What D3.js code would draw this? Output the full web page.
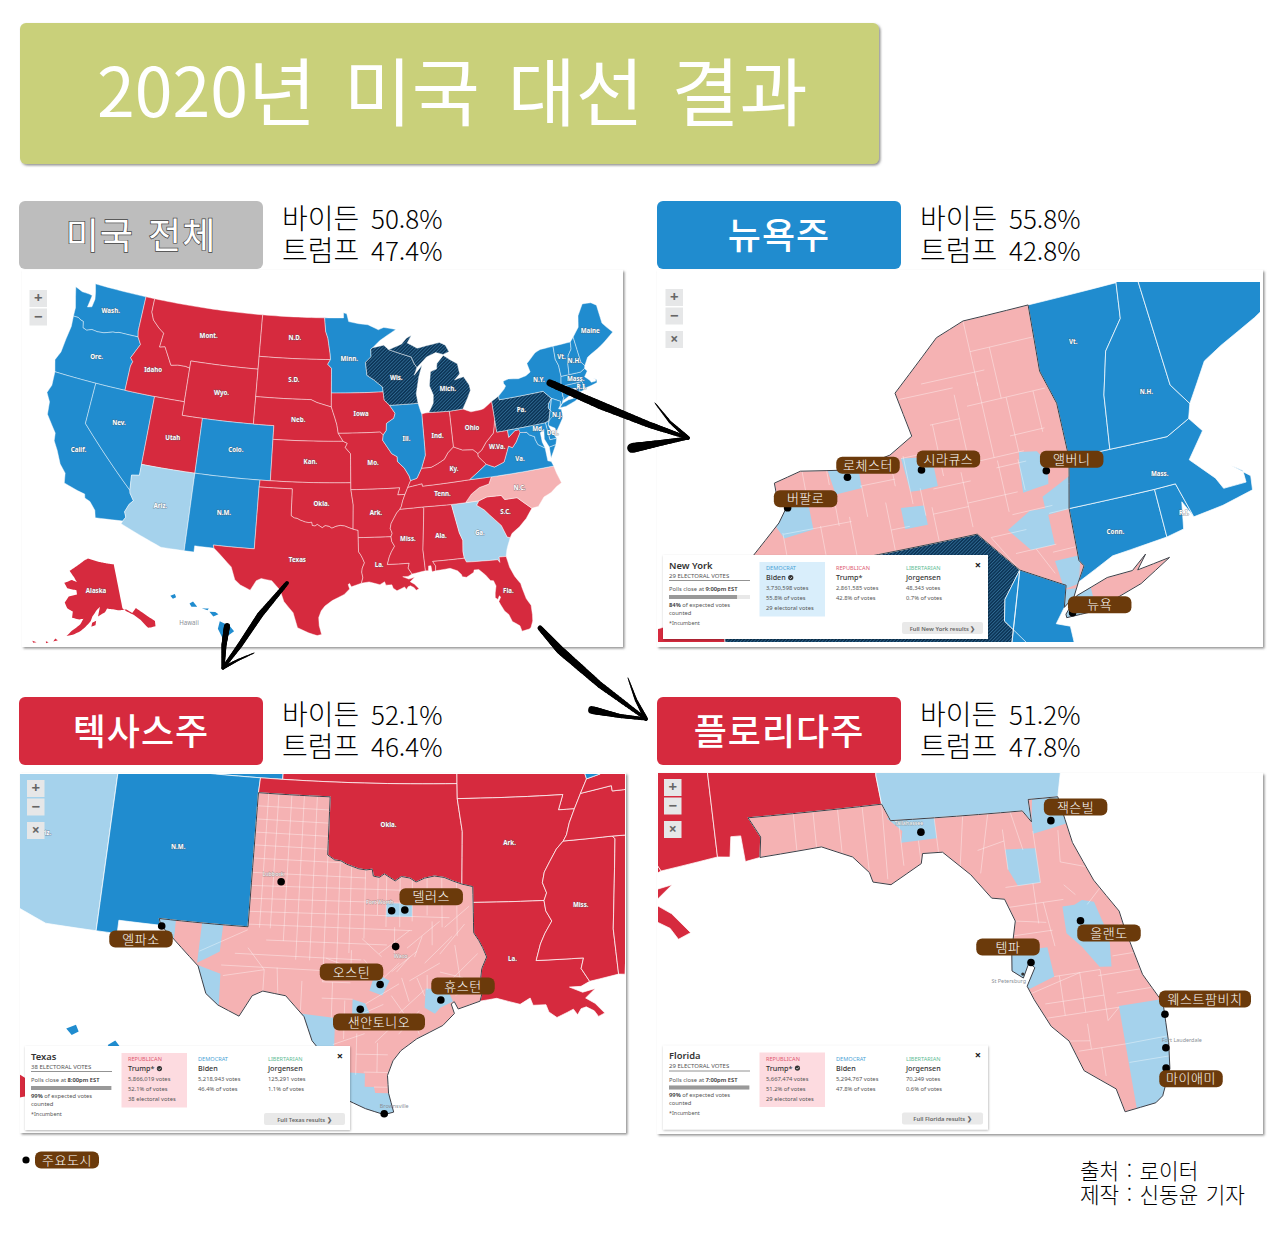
<!DOCTYPE html>
<html lang="ko"><head><meta charset="utf-8">
<script src="https://d3js.org/d3.v7.min.js"></script>
<style>html,body{margin:0;padding:0;background:#fff}svg{display:block}text{font-family:'Noto Sans CJK KR','Noto Sans',sans-serif}</style>
</head><body><svg id="c" width="1280" height="1240"></svg>
<script>
// ---------- shared borders (lon,lat) ----------
const columbia=[[-116.92,46],[-118.98,46],[-119.3,45.93],[-119.6,45.92],[-120.5,45.7],[-121.2,45.65],[-121.8,45.7],[-122.3,45.55],[-122.75,45.65],[-122.9,46.1],[-123.2,46.15],[-123.5,46.27],[-124.05,46.27]];
const snake=[[-117.03,43.8],[-116.9,44.15],[-117.2,44.4],[-116.85,44.95],[-116.5,45.5],[-116.92,46]];
const bitterroot=[[-116.05,48],[-115.7,47.45],[-114.95,46.95],[-114.35,46.65],[-114.5,45.6],[-113.95,45.7],[-113.45,45.05],[-113,44.45],[-112.3,44.55],[-111.5,44.55],[-111.05,44.47]];
const coloradoR=[[-114.63,35],[-114.57,34.8],[-114.14,34.3],[-114.45,34],[-114.72,33.4],[-114.52,33.03],[-114.72,32.72]];
const redRiver=[[-100,34.56],[-99.7,34.4],[-99.45,34.38],[-99.2,34.27],[-98.95,34.2],[-98.7,34.13],[-98.4,34.1],[-98.15,34.13],[-98.1,33.9],[-97.85,33.86],[-97.65,33.98],[-97.2,33.75],[-96.95,33.9],[-96.6,33.85],[-96.35,33.72],[-96,33.85],[-95.6,33.92],[-95.2,33.87],[-94.85,33.75],[-94.48,33.64]];
const sabine=[[-94.04,33.02],[-94.04,32],[-93.85,31.75],[-93.7,31.5],[-93.55,31.18],[-93.75,30.8],[-93.8,30.5],[-93.72,30.1],[-93.85,29.7]];
const missUpper=[[-91.22,43.5],[-91.15,42.9],[-90.65,42.5],[-90.15,41.9],[-90.3,41.55],[-91.05,41.2],[-91.1,40.7],[-91.42,40.38]];
const missMid=[[-91.42,40.38],[-91.5,40],[-90.7,39],[-90.2,38.75],[-90.2,38.4],[-89.6,37.9],[-89.2,37.3],[-89.1,36.97]];
const missLow=[[-89.7,36],[-89.95,35.55],[-90.1,35.15],[-90.25,34.95],[-90.55,34.7],[-90.85,34.3],[-91.1,33.95],[-91.2,33.6],[-91.05,33.25],[-91.17,33]];
const missLA=[[-91.17,33],[-91.12,32.65],[-90.9,32.3],[-91.2,31.9],[-91.4,31.55],[-91.6,31]];
const missouriR=[[-96.45,42.49],[-96.1,41.7],[-95.9,41.2],[-95.77,40.58]];
const stCroix=[[-92.1,46.75],[-92.3,46.65],[-92.3,46.1],[-92.9,45.7],[-92.8,44.75],[-92.1,44.4],[-91.25,43.85],[-91.22,43.5]];
const redNorth=[[-97.23,49],[-97.1,48],[-96.85,47.5],[-96.6,46.35],[-96.56,45.94]];
const ohioWest=[[-84.82,39.1],[-85.4,38.72],[-85.8,38.28],[-86.5,38],[-87.1,37.8],[-88,37.8]];
const ohioEast=[[-82.6,38.17],[-82.6,38.4],[-83,38.72],[-84,38.8],[-84.82,39.1]];
const ohioWV=[[-82.6,38.4],[-82.2,38.6],[-81.7,39.1],[-80.85,39.7],[-80.52,40.64]];
const tnNC=[[-84.32,34.99],[-83.7,35.55],[-82.9,35.95],[-82,36.1],[-81.68,36.59]];
const gaSC=[[-83.1,35],[-83.35,34.7],[-82.75,34.3],[-81.95,33.5],[-81.45,33],[-81.1,32.1],[-80.85,32.03]];
const ncSC=[[-83.1,35],[-82.35,35.2],[-81.05,35.15],[-80.8,34.82],[-79.68,34.8],[-78.55,33.86]];
const alGA=[[-85.6,34.98],[-85.18,32.87],[-84.95,32.3],[-85.05,31.5],[-85,31]];
const vaWV=[[-81.97,37.54],[-81.25,37.25],[-80.3,37.5],[-79.65,38.58],[-79.3,38.42],[-78.87,38.77],[-78.35,39.4],[-77.72,39.32]];
const potomac=[[-77.72,39.32],[-77.5,39.1],[-77.05,38.9],[-77.05,38.7],[-76.9,38.3],[-76.3,37.95]];
const delaware=[[-75.42,39.8],[-75.1,40],[-74.72,40.15],[-75.2,40.7],[-75.1,41],[-74.7,41.36]];
const hudson=[[-74.7,41.36],[-73.9,41],[-74.03,40.7]];
const nhVT=[[-71.5,45.01],[-71.6,44.5],[-72.05,44.1],[-72.3,43.5],[-72.45,42.73]];
const r=a=>a.slice().reverse();
// ---------- state outlines ----------
const WA=[[-122.76,49],[-117.03,49],[-117.04,46.42],...columbia,[-124.1,46.9],[-124.45,47.7],[-124.73,48.38],[-123.9,48.17],[-123.1,48.15],[-122.75,48.1],[-122.9,47.2],[-122.45,47.3],[-122.35,47.9],[-122.5,48.4]];
const OR=[[-124.2,42],[-120,42],[-117.03,42],...snake,...columbia.slice(1),[-123.95,45.5],[-124.1,44.5],[-124.2,43.5],[-124.55,42.84]];
const CA=[[-124.2,42],[-120,42],[-120,39],...coloradoR,[-117.12,32.53],[-117.3,33.05],[-117.9,33.6],[-118.4,33.75],[-118.5,34.03],[-119.2,34.15],[-120.5,34.45],[-120.65,35.15],[-121.3,35.7],[-121.9,36.6],[-122.4,37.2],[-122.5,37.75],[-122.97,38.2],[-123.7,38.9],[-123.85,39.8],[-124.35,40.4],[-124.1,41]];
const NV=[[-120,42],[-114.04,42],[-114.04,36.2],[-114.75,36.1],[-114.63,35],[-120,39]];
const ID=[[-117.03,49],[-116.05,49],...bitterroot,[-111.05,42],[-114.04,42],[-117.03,42],...snake,[-117.04,46.42]];
const MT=[[-116.05,49],[-104.05,49],[-104.05,45],[-111.05,45],...r(bitterroot)];
const WY=[[-111.05,45],[-104.05,45],[-104.05,41],[-111.05,41]];
const UT=[[-114.04,42],[-111.05,42],[-111.05,41],[-109.05,41],[-109.05,37],[-114.04,37]];
const CO=[[-109.05,41],[-102.05,41],[-102.05,37],[-109.05,37]];
const AZ=[[-114.04,37],[-109.05,37],[-109.05,31.33],[-111.07,31.33],[-114.81,32.5],...r(coloradoR),[-114.75,36.1],[-114.04,36.2]];
const NM=[[-109.05,37],[-103,37],[-103.04,36.5],[-103.06,32],[-106.62,32],[-106.53,31.78],[-108.21,31.78],[-108.21,31.33],[-109.05,31.33]];
const ND=[[-104.05,49],...redNorth,[-104.05,45.94]];
const SD=[[-104.05,45.94],[-96.56,45.94],[-96.85,45.6],[-96.45,45.3],[-96.45,42.49],[-97.9,42.8],[-98.5,43],[-104.05,43]];
const NE=[[-104.05,43],[-98.5,43],[-97.9,42.8],...missouriR,[-95.3,40],[-102.05,40],[-102.05,41],[-104.05,41]];
const KS=[[-102.05,40],[-95.3,40],[-94.9,39.85],[-95.1,39.55],[-94.61,39.1],[-94.62,37],[-102.05,37]];
const OK=[[-103,37],[-94.62,37],[-94.62,36.5],[-94.43,35.4],...r(redRiver),[-100,36.5],[-103.04,36.5]];
const TX=[[-103.04,36.5],[-100,36.5],...redRiver,[-94.04,33.55],...sabine,[-94.7,29.45],[-94.85,29.7],[-94.97,29.62],[-94.85,29.3],[-95.3,28.9],[-96.3,28.45],[-96.9,28.05],[-97.2,27.7],[-97.4,27.2],[-97.35,26.6],[-97.15,25.96],[-97.5,25.87],[-98.2,26.06],[-99.1,26.42],[-99.5,27.5],[-100.3,28.3],[-100.65,29.1],[-101.4,29.77],[-102.3,29.88],[-102.7,29.7],[-103.15,28.98],[-104,29.3],[-104.5,29.65],[-104.9,30.55],[-106,31.4],[-106.53,31.78],[-106.62,32],[-103.06,32]];
const MN=[...redNorth.slice(0,1),[-95.15,49],[-95.15,49.38],[-94.8,49.3],[-94.6,48.72],[-93.5,48.55],[-92.5,48.45],[-91.4,48.05],[-90.8,48.2],[-89.5,48],[-90.5,47.6],[-91.3,47.25],...stCroix,[-96.45,43.5],[-96.45,45.3],[-96.85,45.6],[-96.56,45.94],[-96.6,46.35],[-96.85,47.5],[-97.1,48]];
const IA=[[-96.45,43.5],...missUpper,[-91.7,40.6],...r(missouriR)];
const MO=[[-95.77,40.58],[-91.7,40.6],...missMid,[-89.4,36.5],[-89.7,36],[-90.37,36],[-90.15,36.5],[-94.62,36.5],[-94.62,37],[-94.61,39.1],[-95.1,39.55],[-94.9,39.85],[-95.3,40]];
const AR=[[-94.62,36.5],[-90.15,36.5],[-90.37,36],...missLow,[-94.04,33.02],[-94.04,33.55],[-94.48,33.64],[-94.43,35.4]];
const LA=[...sabine.slice(0,1),...missLA,[-89.73,31],[-89.85,30.65],[-89.55,30.2],[-89.9,30.05],[-90.35,30.05],[-89.85,29.85],[-89.35,29.95],[-89.75,29.65],[-89.4,29.45],[-89.05,29.1],[-89.3,29],[-89.45,29.2],[-89.75,29.35],[-89.95,29.3],[-90.1,29.1],[-90.25,29.3],[-90.5,29.2],[-90.9,29.05],[-91.2,29.25],[-91.3,29.5],[-91.8,29.5],[-91.9,29.75],[-92.3,29.55],[-93.2,29.78],...r(sabine)];
const MS=[[-90.25,34.95],[-88.2,35],[-88.1,34.9],[-88.47,31.9],[-88.4,30.37],[-89.55,30.2],[-89.85,30.65],[-89.73,31],...r(missLA),[-91.05,33.25],[-91.2,33.6],[-91.1,33.95],[-90.85,34.3],[-90.55,34.7]];
const AL=[[-88.2,35],...alGA,[-87.72,31],[-87.5,30.65],[-87.55,30.3],[-87.85,30.25],[-87.9,30.7],[-88.1,30.7],[-88.15,30.35],[-88.4,30.37],[-88.47,31.9],[-88.1,34.9]];
const GA=[[-85.6,34.98],[-84.32,34.99],...gaSC,[-81.15,31.5],[-81.3,31.2],[-81.45,30.72],[-82.05,30.75],[-82.05,30.36],[-82.2,30.57],[-84.86,30.7],...r(alGA)];
const FL=[[-87.72,31],[-85,31],[-84.86,30.7],[-82.2,30.57],[-82.05,30.36],[-82.05,30.75],[-81.45,30.72],[-81.3,29.9],[-81,29.2],[-80.6,28.6],[-80.55,28.3],[-80.35,27.45],[-80.05,26.9],[-80.07,26.2],[-80.13,25.75],[-80.35,25.3],[-80.5,25.2],[-81.1,25.13],[-81.2,25.55],[-81.75,25.95],[-81.95,26.5],[-82.25,26.8],[-82.5,27.3],[-82.6,27.55],[-82.4,27.85],[-82.5,27.95],[-82.65,27.7],[-82.85,27.85],[-82.8,28.2],[-82.65,28.7],[-82.8,29.1],[-83.05,29.15],[-83.4,29.6],[-83.9,30.05],[-84.3,30.07],[-84.35,29.9],[-85,29.6],[-85.35,29.68],[-85.4,29.85],[-85.7,30.15],[-86.3,30.38],[-87.55,30.3],[-87.5,30.65]];
const SC=[...ncSC,[-79.2,33.2],[-79.9,32.7],[-80.65,32.3],[-80.85,32.03],...r(gaSC).slice(1)];
const NC=[[-84.32,34.99],...ncSC,[-77.95,33.9],[-77.3,34.5],[-76.6,34.7],[-76,35.05],[-75.5,35.25],[-75.75,36],[-75.87,36.55],...r(tnNC)];
const TN=[[-90.25,34.95],[-88.2,35],[-85.6,34.98],...tnNC,[-83.68,36.6],[-88.05,36.5],[-88.07,36.68],[-89.4,36.5],[-89.7,36],[-89.95,35.55],[-90.1,35.15]];
const KY=[[-89.4,36.5],[-88.07,36.68],[-88.05,36.5],[-83.68,36.6],...vaWV.slice(0,1),...ohioEast,...ohioWest.slice(1),[-88.5,37.1],[-89.1,36.97]];
const VA=[[-83.68,36.6],[-75.87,36.55],[-76,36.9],[-76.3,37],[-76.3,37.95],...r(potomac),...r(vaWV)];
const VAshore=[[-75.9,37.95],[-75.25,38.03],[-75.95,37.15]];
const WV=[...vaWV,[-78.4,39.62],[-78.8,39.6],[-79.48,39.2],[-79.48,39.72],[-80.52,39.72],...r(ohioWV),[-82.6,38.17]];
const OH=[[-84.82,39.1],[-84,38.8],[-83,38.72],...ohioWV,[-80.52,41.98],[-81.4,41.55],[-81.7,41.5],[-82.7,41.45],[-83.45,41.73],[-84.8,41.7]];
const IN=[[-87.53,41.7],[-87.2,41.75],[-86.82,41.76],[-84.8,41.7],...ohioWest,[-87.55,38.7],[-87.53,39.35]];
const IL=[[-87.53,41.7],[-87.53,39.35],[-87.55,38.7],[-88,37.8],[-88.5,37.1],...r(missMid),[-91.1,40.7],[-91.05,41.2],[-90.3,41.55],[-90.15,41.9],[-90.65,42.5],[-87.8,42.5],[-87.6,41.85]];
const WI=[[-90.65,42.5],[-87.8,42.5],[-87.9,43.2],[-87.7,43.8],[-87.5,44.4],[-87.05,45.25],[-87.95,44.55],[-87.6,45.1],[-87.85,45.4],[-88.1,45.9],[-89,46.15],[-90.4,46.55],[-90.9,46.9],[-91.3,46.85],...stCroix,[-91.15,42.9]];
const MIlow=[[-86.82,41.76],[-86.3,42.4],[-86.2,43],[-86.5,43.7],[-86.25,44.7],[-85.6,44.85],[-85.5,45.25],[-84.75,45.78],[-84.1,45.4],[-83.4,45.05],[-83.3,44.3],[-83.9,43.9],[-83.45,43.98],[-82.95,44.05],[-82.5,43.4],[-82.45,43],[-82.9,42.4],[-83.15,42.1],[-83.45,41.73],[-84.8,41.7]];
const MIup=[[-90.4,46.55],[-89,46.9],[-88.45,47.3],[-87.9,47.47],[-88.4,46.95],[-87.4,46.5],[-86.1,46.65],[-85,46.75],[-84.4,46.5],[-84.1,46],[-84.75,45.85],[-85.5,46.05],[-86.5,45.8],[-87.6,45.1],[-87.85,45.4],[-88.1,45.9],[-89,46.15]];
const PA=[[-80.52,41.98],[-80.52,39.72],[-75.78,39.72],...delaware,[-75.35,41.99],[-79.76,42],[-79.76,42.27]];
const NY=[[-79.76,42.27],[-79.76,42],[-75.35,41.99],[-74.7,41.36],[-73.9,41],[-74.03,40.7],[-73.8,40.82],[-73.66,41],[-73.48,41.21],[-73.55,41.3],[-73.5,42.05],[-73.27,42.75],[-73.25,43.55],[-73.43,44.05],[-73.34,45.01],[-74.7,45],[-75.3,44.85],[-76.35,44.2],[-76.2,43.55],[-76.7,43.35],[-77.5,43.25],[-78.5,43.37],[-79.05,43.27],[-79.05,43.1],[-78.9,42.9],[-79.1,42.7]];
const LI=[[-74.03,40.6],[-73.75,40.82],[-73.1,40.97],[-72.6,40.98],[-72.28,41.16],[-72.5,40.97],[-71.85,41.03],[-72.5,40.77],[-73.5,40.55],[-74.03,40.55]];
const NJ=[[-74.7,41.36],...hudson.slice(1),[-74.25,40.5],[-74,40.42],[-74,40.1],[-74.1,39.75],[-74.9,38.95],[-75,39.2],[-75.55,39.5],...r(delaware)];
const DE=[[-75.78,39.72],[-75.42,39.8],[-75.55,39.5],[-75.4,39.05],[-75.05,38.45],[-75.7,38.46]];
const MD=[[-79.48,39.72],[-75.78,39.72],[-75.7,38.46],[-75.05,38.45],[-75.25,38.03],[-75.9,37.95],[-76.2,38.6],[-76.05,39.3],[-76.45,39.1],[-76.45,38.4],...r(potomac),[-78.35,39.4],[-78.4,39.62],[-78.8,39.6],[-79.48,39.2]];
const CT=[[-73.66,41],[-73.48,41.21],[-73.55,41.3],[-73.5,42.05],[-71.8,42.02],[-71.8,41.32],[-72.9,41.25]];
const RI=[[-71.8,42.02],[-71.38,42.02],[-71.2,41.5],[-71.35,41.75],[-71.45,41.37],[-71.8,41.32]];
const MA=[[-73.5,42.05],[-73.27,42.75],[-72.45,42.73],[-71.3,42.7],[-70.8,42.87],[-70.6,42.65],[-71,42.3],[-70.6,41.95],[-70.5,41.78],[-70.05,41.78],[-70.05,41.95],[-70.25,42.07],[-69.93,41.85],[-69.97,41.65],[-70.6,41.55],[-71.2,41.5],[-71.38,42.02],[-71.8,42.02]];
const VT=[[-73.34,45.01],...nhVT,[-73.27,42.75],[-73.25,43.55],[-73.43,44.05]];
const NH=[[-71.5,45.01],[-71.08,45.3],[-70.98,43.4],[-70.7,43.07],[-70.8,42.87],[-71.3,42.7],...r(nhVT).slice(0,-1)];
const ME=[[-71.08,45.3],[-70.3,45.9],[-70,46.7],[-69.22,47.46],[-68.3,47.36],[-67.8,47.07],[-67.8,45.7],[-67.45,45.3],[-67,44.85],[-68.2,44.3],[-69,44],[-69.8,43.75],[-70.2,43.6],[-70.7,43.07],[-70.98,43.4]];
const AK=[[-141,69.65],[-141,60.3],[-139.8,59.6],[-137,58.4],[-135,57],[-133.2,55],[-130.5,54.8],[-130,55.9],[-133.5,58.4],[-135.5,59.7],[-137.5,58.9],[-139.5,59.9],[-142.5,60],[-145,60.4],[-147.5,60.7],[-148.5,60],[-151.5,59.2],[-150.5,61.2],[-152,60.5],[-153.8,59.2],[-154.5,58.2],[-156.5,57],[-158.5,56],[-161,55.2],[-163.2,54.8],[-161.5,56],[-158.5,57.5],[-157.4,58.7],[-159,58.5],[-162,58.7],[-162,60],[-164.5,60.5],[-166,61.6],[-164.7,63],[-161,63.6],[-161.5,64.5],[-166,64.6],[-168,65.6],[-164.5,66.5],[-161.8,66.2],[-163.5,67.1],[-166.5,68.3],[-163,69.5],[-159,70.8],[-156.5,71.35],[-152,70.85],[-146,70.2]];
const AKisl=[[[-153.9,57.9],[-152.3,58.3],[-152.6,57.4],[-154.2,57.1]],[[-167,53.9],[-166,53.6],[-167.5,53.2]],[[-170,52.9],[-169,52.8],[-169.8,52.5]],[[-174.5,52.2],[-173,52.2],[-174,51.9]]];
const HIisl=[[[-155.9,20.25],[-155.1,19.85],[-154.8,19.5],[-155.65,18.93],[-156.05,19.7]],[[-156.7,20.95],[-156.25,20.93],[-156,20.75],[-156.4,20.6]],[[-157.3,21.2],[-156.75,21.18],[-156.85,21.05]],[[-158.25,21.55],[-157.98,21.7],[-157.65,21.3],[-158.1,21.3]],[[-159.75,22.1],[-159.4,22.23],[-159.3,22],[-159.55,21.88]]];
// ---------- election colouring ----------
const statesAll={WA:[WA],OR:[OR],CA:[CA],NV:[NV],ID:[ID],MT:[MT],WY:[WY],UT:[UT],CO:[CO],AZ:[AZ],NM:[NM],ND:[ND],SD:[SD],NE:[NE],KS:[KS],OK:[OK],TX:[TX],MN:[MN],IA:[IA],MO:[MO],AR:[AR],LA:[LA],MS:[MS],AL:[AL],GA:[GA],FL:[FL],SC:[SC],NC:[NC],TN:[TN],KY:[KY],VA:[VA,VAshore],WV:[WV],OH:[OH],IN:[IN],IL:[IL],WI:[WI],MI:[MIlow,MIup],PA:[PA],NY:[NY,LI],NJ:[NJ],DE:[DE],MD:[MD],CT:[CT],RI:[RI],MA:[MA],VT:[VT],NH:[NH],ME:[ME]};
const wonBlue=['WA','OR','CA','NV','CO','NM','MN','IL','VA','MD','DE','NJ','NY','CT','RI','MA','VT','NH','ME','HI'];
const leanBlue=['AZ','GA'];
const leanRed=['NC'];
const pending=['WI','MI','PA'];
const COL={red:'#d62a3e',blue:'#208ccf',lb:'#a5d2ec',pink:'#f5b2b3'};
const stateColor=c=>wonBlue.includes(c)?COL.blue:leanBlue.includes(c)?COL.lb:leanRed.includes(c)?COL.pink:pending.includes(c)?'url(#hatch)':COL.red;
// ---------- labels ----------
const stateLabels=[['Wash.',-120.4,47.4],['Ore.',-120.6,43.9],['Calif.',-120.0,37.0],['Nev.',-116.9,39.6],['Idaho',-114.7,43.9],['Mont.',-109.6,47.0],['Wyo.',-107.5,43.0],['Utah',-111.6,39.3],['Colo.',-105.5,39.0],['Ariz.',-111.7,34.3],['N.M.',-106.0,34.4],['N.D.',-100.4,47.5],['S.D.',-100.3,44.4],['Neb.',-99.7,41.5],['Kan.',-98.4,38.5],['Okla.',-97.3,35.5],['Texas',-99.3,31.4],['Minn.',-94.6,46.0],['Iowa',-93.5,42.0],['Mo.',-92.5,38.4],['Ark.',-92.4,34.8],['La.',-92.3,31.0],['Wis.',-89.8,44.5],['Ill.',-89.2,40.0],['Mich.',-84.7,43.3],['Ind.',-86.2,40.0],['Ky.',-85.0,37.5],['Tenn.',-86.3,35.8],['Miss.',-89.7,32.8],['Ala.',-86.8,32.8],['Ga.',-83.4,32.7],['Fla.',-81.7,28.2],['Ohio',-82.8,40.3],['W.Va.',-80.7,38.7],['Va.',-78.8,37.5],['N.C.',-79.3,35.5],['S.C.',-80.9,33.9],['Pa.',-77.8,41.0],['N.Y.',-75.5,42.9],['N.J.',-74.5,40.1],['Del.',-75.3,38.9],['Md.',-76.6,39.4],['Conn.',-72.75,41.65],['R.I.',-71.55,41.68],['Mass.',-71.9,42.35],['Vt.',-72.75,44.1],['N.H.',-71.6,43.6],['Maine',-69.2,45.4]];
const cityNY=[['Buffalo',-78.88,42.89],['Rochester',-77.61,43.16],['Syracuse',-76.15,43.05],['Albany',-73.76,42.65],['New York',-73.9,40.6]];
const cityTX=[['Lubbock',-101.85,33.58],['Fort Worth',-97.33,32.75],['Dallas',-96.8,32.78],['Waco',-97.15,31.55],['Austin',-97.74,30.27],['San Antonio',-98.49,29.42],['Houston',-95.37,29.76],['El Paso',-106.49,31.76],['Brownsville',-97.5,25.9]];
const cityFL=[['Tallahassee',-84.28,30.44],['Jacksonville',-81.66,30.33],['Orlando',-81.38,28.54],['Tampa',-82.46,27.95],['West Palm Beach',-80.05,26.7],['Fort Lauderdale',-80.14,26.12],['Miami',-80.2,25.77]];
const smallNamesTX=[['Lubbock',-101.85,33.58,-8,-6,1],['Fort Worth',-97.33,32.75,-12,-7,1],['Waco',-97.15,31.55,5,11,1],['Brownsville',-97.5,25.9,10,-6,0]];
const smallNamesFL=[['Tallahassee',-84.28,30.44,-12,-7,1],['St Petersburg',-82.65,27.77,-14,9,0],['Fort Lauderdale',-80.14,26.12,16,-6,0]];
// ---------- counties ----------
const blueNY=[[[-79.2,42.7],[-78.9,42.95],[-79.1,43.07],[-78.47,43.09],[-78.46,42.52],[-79.05,42.47]],[[-78,43.45],[-77.37,43.35],[-77.37,42.97],[-77.9,42.95]],[[-76.5,43.27],[-75.9,43.2],[-75.9,42.78],[-76.27,42.77],[-76.45,42.78]],[[-76.7,42.58],[-76.25,42.55],[-76.25,42.27],[-76.7,42.27]],[[-74.3,42.42],[-73.78,42.46],[-73.7,42.75],[-73.85,42.95],[-74.2,43.0],[-74.25,42.8]],[[-73.95,42.3],[-73.35,42.5],[-73.45,42.05],[-73.95,42.03]],[[-74.75,41.95],[-74.25,42.15],[-73.92,42.13],[-73.93,41.6],[-74.4,41.6]],[[-74,41.37],[-73.5,41.37],[-73.65,40.98],[-73.95,40.95]],[[-74.3,40.45],[-73.45,40.5],[-73.45,40.9],[-74.0,40.95]]];
const blueTX=[[[-106.7,32.05],[-105.95,32.05],[-105.95,31.3],[-106.7,31.3]],[[-104.9,32.05],[-104.05,32.05],[-104.1,31.1],[-104.95,30.65]],[[-105,30.6],[-104,30.35],[-103.95,29],[-105,29]],[[-100.8,29.2],[-99.45,29.1],[-99.45,27.9],[-100.8,27.9]],[[-99.6,27.3],[-98.25,27.25],[-98.25,26.8],[-97.9,26.8],[-97.85,26.6],[-97,26.6],[-97,25.7],[-99.6,25.7]],[[-98.15,30.05],[-97.95,30.65],[-97.37,30.4],[-97.65,29.9]],[[-98.8,29.75],[-98.3,29.62],[-98.13,29.3],[-98.8,29.1]],[[-97.55,33],[-96.5,33],[-96.5,32.55],[-97.55,32.55]],[[-95.96,30.15],[-95.1,30.1],[-94.9,29.7],[-95.4,29.5],[-95.6,29.3],[-96,29.5]]];
const blueFL=[[[-84.93,30.75],[-83.98,30.75],[-83.98,30.3],[-84.7,30.3],[-84.65,30.5]],[[-82.65,29.95],[-82.05,29.9],[-82.05,29.3],[-82.5,29.3],[-82.65,29.6]],[[-81.95,30.85],[-81.3,30.85],[-81.3,30.25],[-82.05,30.15],[-82.05,30.36]],[[-81.69,28.83],[-81.69,28.36],[-81.43,28.09],[-81.15,27.7],[-80.92,27.67],[-80.87,28.19],[-81.06,28.83],[-81.29,28.89],[-81.45,28.83]],[[-83,28.18],[-82.1,28.17],[-82.05,27.65],[-82.55,27.5],[-83,27.6]],[[-80.9,26.97],[-79.8,26.97],[-79.8,25],[-80.87,25]]];
const linesNY=[[[-79.06,42],[-79.06,42.55]],[[-78.31,42],[-78.31,42.55]],[[-77.72,42],[-77.72,42.6]],[[-76.97,42],[-76.97,42.7]],[[-79.05,42.53],[-77.7,42.53]],[[-78.47,43.05],[-78.47,43.4]],[[-77.99,43.1],[-77.99,43.4]],[[-78.47,42.87],[-77.95,42.87]],[[-77.95,42.5],[-77.95,43]],[[-77.37,42.55],[-77.37,43]],[[-77.4,43],[-76.7,43]],[[-76.72,42.9],[-76.72,43.35]],[[-76.45,42.6],[-76.45,43.3]],[[-76.5,43.27],[-75.75,43.27]],[[-75.75,42.9],[-75.75,43.65]],[[-76,42.75],[-75.25,42.75]],[[-75.4,42.1],[-75.4,42.9]],[[-76.1,42.4],[-75.4,42.4]],[[-76.1,42],[-76.1,42.5]],[[-76.25,42.4],[-76.25,42.8]],[[-76.97,42.3],[-76.6,42.3]],[[-74.65,42.2],[-74.65,42.95]],[[-75.4,42.45],[-74.4,42.45]],[[-75.1,41.9],[-74.4,41.9]],[[-74.7,43],[-74.7,44.1]],[[-75.2,43],[-75.2,44]],[[-75.8,43.65],[-75.2,43.65]],[[-76.3,44.1],[-75.2,44.1]],[[-75.8,44.25],[-74.5,44.25]],[[-74.7,44.05],[-74.7,45]],[[-74.7,44.55],[-73.4,44.55]],[[-74.3,43.8],[-74.3,44.55]],[[-75,43.8],[-73.4,43.8]],[[-74.2,43],[-74.2,43.8]],[[-73.65,43.2],[-73.65,43.8]],[[-74.3,43.25],[-73.6,43.25]],[[-75,43],[-74.1,43]],[[-74.7,42.85],[-74.1,42.85]],[[-74.7,41.6],[-73.9,41.6]],[[-74,41.5],[-73.5,41.5]],[[-74.6,42.15],[-73.8,42.15]],[[-74.25,42.45],[-74.25,42.9]],[[-73.9,42.05],[-73.5,42.05]],[[-74.3,41.6],[-74.05,41.2]],[[-75.1,41.9],[-74.7,41.36]]];
const linesTX=[[[-102.6,36.6],[-102.6,32]],[[-102.17,36.6],[-102.17,32]],[[-101.62,36.6],[-101.62,31.6]],[[-101.09,36.6],[-101.09,31]],[[-100.54,36.6],[-100.54,31]],[[-99.99,34.6],[-99.99,30.3]],[[-99.47,34.3],[-99.47,30.6]],[[-99,34.2],[-99,31.3]],[[-98.42,34.2],[-98.42,31.8]],[[-97.9,33.9],[-97.9,32.6]],[[-97.55,33.9],[-97.55,32.2]],[[-97.0,33.9],[-97,32.2]],[[-96.5,33.9],[-96.5,32.4]],[[-95.9,33.9],[-95.9,32.6]],[[-95.3,33.9],[-95.3,32.2]],[[-94.7,33.7],[-94.7,31.9]],[[-103.06,36.06],[-100,36.06]],[[-103.06,35.62],[-100,35.62]],[[-103.06,35.18],[-100,35.18]],[[-103.06,34.75],[-100,34.75]],[[-103.06,34.31],[-99.2,34.31]],[[-103.06,33.83],[-98.4,33.83]],[[-103.06,33.39],[-95,33.39]],[[-103.06,32.96],[-95,32.96]],[[-103.06,32.52],[-95,32.52]],[[-103.06,32.09],[-96.5,32.09]],[[-102.3,31.6],[-97.5,31.6]],[[-103.5,31.08],[-98.5,31.08]],[[-104,30.65],[-98.5,30.65]],[[-103.9,30.3],[-102.3,30.6]],[[-103,31.3],[-102.3,30.6]],[[-102.3,30.6],[-102.3,29.8]],[[-101.8,30.7],[-101.7,29.7]],[[-100.8,30.3],[-100.8,29.3]],[[-100,30.3],[-98.9,30.3]],[[-100,29.75],[-98.8,29.75]],[[-99.6,30.3],[-99.6,29.1]],[[-99.1,29.7],[-99.1,28.4]],[[-99.5,28.2],[-98.3,28.6]],[[-98.8,29.1],[-97.6,29.6]],[[-98.3,29.6],[-97,30.3]],[[-98.3,28.9],[-97.3,29.3]],[[-97.9,28.3],[-97.2,28.9]],[[-98.6,27.9],[-97.4,27.9]],[[-98.3,27.3],[-97.3,27.3]],[[-97.9,26.8],[-97.3,26.8]],[[-98.6,27.2],[-98.6,28.6]],[[-97.8,27.3],[-97.8,28.3]],[[-97,29.3],[-96,30.1]],[[-97,28.6],[-96.2,29.4]],[[-96.5,29.3],[-96.2,28.6]],[[-96.6,30.4],[-95.4,31]],[[-97.3,30.7],[-96.3,31.4]],[[-97.8,31.3],[-96.6,32.1]],[[-96.7,31.5],[-95.4,32.4]],[[-96,31],[-94.9,31.9]],[[-95.4,31.3],[-94.4,32.3]],[[-95,30.4],[-93.9,31.3]],[[-94.8,29.9],[-93.8,30.5]],[[-95.4,30.7],[-94.5,30.5]],[[-94.8,31.6],[-94.6,30.4]],[[-94.2,32.9],[-95.2,32.2]],[[-96.3,30.5],[-96,29.9]],[[-97,31],[-97.6,30.5]],[[-98.5,31.8],[-97.7,31.2]],[[-98.4,31.1],[-97.9,30.6]],[[-103.06,31.9],[-104.9,31.05]],[[-96.9,30.5],[-96.6,29.7]],[[-97.3,29.9],[-96.8,29.3]],[[-96.1,31.9],[-96.4,31.2]],[[-95.7,32.4],[-95.7,31.6]],[[-97.2,32.2],[-97.2,31.2]],[[-96.6,31.2],[-97.1,30.7]],[[-98.9,31.4],[-98.9,30.6]],[[-99.9,31.1],[-99.2,30.9]],[[-95.9,30.6],[-95.9,30.1]]];
const linesFL=[[[-86.8,30.3],[-86.8,31]],[[-86.4,30.35],[-86.4,31]],[[-85.9,30.2],[-85.9,31]],[[-85.4,29.9],[-85.4,31]],[[-85.05,29.7],[-85,31]],[[-84.7,29.9],[-84.7,30.7]],[[-84.35,29.9],[-84.35,30.3]],[[-83.98,30.05],[-83.98,30.7]],[[-83.6,29.7],[-83.4,30.65]],[[-83.2,29.6],[-82.9,30.6]],[[-83.2,30],[-82.65,30.1]],[[-82.65,29.6],[-82.65,30.3]],[[-82.45,30.6],[-82.3,29.9]],[[-82.05,29.3],[-82.05,30.2]],[[-81.55,30.15],[-81.6,29.6]],[[-81.6,29.6],[-81.1,29.45]],[[-81.6,29.2],[-81.4,29]],[[-82.75,29.3],[-82.05,29.3]],[[-82.75,28.95],[-81.65,28.95]],[[-82.2,29.3],[-82.2,28.6]],[[-82.65,28.7],[-82.05,28.6]],[[-82.75,28.45],[-81.95,28.45]],[[-82.05,28.95],[-81.95,28.17]],[[-81.2,28.8],[-80.9,29.05]],[[-80.87,28.3],[-80.55,28.4]],[[-80.87,27.85],[-80.4,27.85]],[[-81.2,27.55],[-80.35,27.55]],[[-80.9,27.2],[-80.2,27.2]],[[-82.05,27.65],[-81.15,27.65]],[[-82.6,27.4],[-81.55,27.65]],[[-81.55,27.65],[-81.55,26.95]],[[-82.3,27.2],[-81.55,27.2]],[[-81.95,27.65],[-81.95,26.95]],[[-82.3,26.95],[-80.9,26.95]],[[-81.55,27.2],[-81.15,27.2]],[[-81.15,27.65],[-81.15,26.75]],[[-81.15,26.75],[-80.9,26.95]],[[-81.95,26.5],[-81.55,26.45]],[[-81.55,26.75],[-81.55,26.3]],[[-81.8,26.3],[-80.9,26.3]],[[-81.35,26.3],[-81.35,25.8]],[[-80.9,26.3],[-80.05,26.32]],[[-80.87,25.97],[-80.1,25.97]]];
// ---------- results panels ----------
const resultsUS=[['바이든','50.8%'],['트럼프','47.4%']];
const resultsNY=[['바이든','55.8%'],['트럼프','42.8%']];
const resultsTX=[['바이든','52.1%'],['트럼프','46.4%']];
const resultsFL=[['바이든','51.2%'],['트럼프','47.8%']];
const popNY={name:'New York',ev:'29 ELECTORAL VOTES',close:'9:00pm EST',counted:84,btn:'Full New York results',cand:[['DEMOCRAT','Biden','3,730,598','55.8%','29'],['REPUBLICAN','Trump*','2,861,585','42.8%',''],['LIBERTARIAN','Jorgensen','48,343','0.7%','']]};
const popTX={name:'Texas',ev:'38 ELECTORAL VOTES',close:'8:00pm EST',counted:99,btn:'Full Texas results',cand:[['REPUBLICAN','Trump*','5,866,019','52.1%','38'],['DEMOCRAT','Biden','5,218,943','46.4%',''],['LIBERTARIAN','Jorgensen','125,291','1.1%','']]};
const popFL={name:'Florida',ev:'29 ELECTORAL VOTES',close:'7:00pm EST',counted:99,btn:'Full Florida results',cand:[['REPUBLICAN','Trump*','5,667,474','51.2%','29'],['DEMOCRAT','Biden','5,294,767','47.8%',''],['LIBERTARIAN','Jorgensen','70,249','0.6%','']]};

// ============ layout ============
const svg=d3.select('#c');
const defs=svg.append('defs');
const hp=defs.append('pattern').attr('id','hatch').attr('width',2.4).attr('height',2.4).attr('patternUnits','userSpaceOnUse').attr('patternTransform','rotate(45)');
hp.append('rect').attr('width',2.4).attr('height',2.4).attr('fill','#0d3658');
hp.append('rect').attr('width',.55).attr('height',2.4).attr('fill','#3f82ae');
const sh=defs.append('filter').attr('id','shadow').attr('x','-3%').attr('y','-3%').attr('width','108%').attr('height','108%');
sh.append('feDropShadow').attr('dx',1.5).attr('dy',1.5).attr('stdDeviation',1).attr('flood-color','#555').attr('flood-opacity',.65);
const sh2=defs.append('filter').attr('id','shadowS').attr('x','-3%').attr('y','-3%').attr('width','108%').attr('height','108%');
sh2.append('feDropShadow').attr('dx',.5).attr('dy',1).attr('stdDeviation',1.3).attr('flood-color','#000').attr('flood-opacity',.3);

const baseP=()=>d3.geoConicEqualArea().parallels([29.5,45.5]).rotate([96,0]);
function densify(ring){const out=[];ring.forEach((p,i)=>{const q=ring[(i+1)%ring.length];const d=Math.max(Math.abs(p[0]-q[0]),Math.abs(p[1]-q[1]));const n=Math.max(1,Math.ceil(d/.5));for(let j=0;j<n;j++)out.push([p[0]+(q[0]-p[0])*j/n,p[1]+(q[1]-p[1])*j/n]);});return out;}
const US_SCALE=785, US_ANCHOR=[-94.61,39.1], US_AT=[350.5,453.7];
const usP=baseP().scale(US_SCALE).translate([0,0]);const a0=usP(US_ANCHOR);usP.translate([US_AT[0]-a0[0],US_AT[1]-a0[1]]);
const akP=d3.geoConicEqualArea().parallels([55,65]).rotate([154,0]).scale(US_SCALE*.35).translate([0,0]);
const ak0=akP([-152,64.5]);akP.translate([96-ak0[0],591-ak0[1]]);
const hiP=d3.geoConicEqualArea().parallels([8,18]).rotate([157,0]).scale(US_SCALE).translate([0,0]);
const hi0=hiP([-155.5,19.6]);hiP.translate([225-hi0[0],630-hi0[1]]);
const LABEL_FONT="'Noto Sans',sans-serif";

function drawPanel(cfg){
  const {id,frame,clip,scale,anchor,at,focus}=cfg;
  svg.append('rect').attr('x',frame[0]).attr('y',frame[1]).attr('width',frame[2]).attr('height',frame[3]).attr('fill','#fff').attr('filter','url(#shadow)');
  defs.append('clipPath').attr('id','cp'+id).append('rect').attr('x',clip[0]).attr('y',clip[1]).attr('width',clip[2]).attr('height',clip[3]);
  const g=svg.append('g').attr('clip-path',`url(#cp${id})`);
  const P=baseP().scale(scale).translate([0,0]);const a=P(anchor);P.translate([at[0]-a[0],at[1]-a[1]]);
  const k=scale/US_SCALE;const ua=usP(anchor);
  const viaUS=pr=>ll=>{const u=pr(ll);return [at[0]+k*(u[0]-ua[0]),at[1]+k*(u[1]-ua[1])];};
  const line=d3.line();
  const pathOf=(ring,pr)=>line(densify(ring).map(pr))+'Z';
  const sw=id==='us'?.55:.9;
  Object.entries(statesAll).forEach(([c,rings])=>{
    g.append('path').attr('d',rings.map(x=>pathOf(x,P)).join('')).attr('fill',c===focus?COL.pink:stateColor(c)).attr('stroke','#fff').attr('stroke-opacity',.8).attr('stroke-width',sw).attr('stroke-linejoin','round');
  });
  g.append('path').attr('d',[AK,...AKisl].map(x=>pathOf(x,viaUS(akP))).join('')).attr('fill',COL.red);
  g.append('path').attr('d',HIisl.map(x=>pathOf(x,viaUS(hiP))).join('')).attr('fill',COL.blue);
  if(focus){
    const cid='st'+id;
    const fd=statesAll[focus].map(x=>pathOf(x,P)).join('');
    defs.append('clipPath').attr('id',cid).append('path').attr('d',fd);
    const cg=g.append('g').attr('clip-path',`url(#${cid})`);
    cg.selectAll('path.b').data(cfg.blue).join('path').attr('d',x=>pathOf(x,P)).attr('fill',COL.lb);
    cg.append('path').attr('d',cfg.lines.map(l=>d3.line()(l.map(P))).join('')).attr('fill','none').attr('stroke','#fff').attr('stroke-opacity',.55).attr('stroke-width',.7);
    g.append('path').attr('d',fd).attr('fill','none').attr('stroke','#3d4048').attr('stroke-width',1);
  }
  const shift=cfg.labelShift||{};const hide=cfg.hide||[];
  const lp=d=>{const q=P([d[1],d[2]]);const s=shift[d[0]]||[0,0];return [q[0]+s[0],q[1]+s[1]];};
  const inside=d=>{const q=lp(d);return q[0]>clip[0]+8&&q[0]<clip[0]+clip[2]-8&&q[1]>clip[1]+6&&q[1]<clip[1]+clip[3]-6&&!hide.includes(d[0]);};
  g.selectAll('text.s').data(stateLabels.filter(inside)).join('text')
    .attr('x',d=>lp(d)[0]).attr('y',d=>lp(d)[1]+2.2).attr('text-anchor','middle')
    .style('font-family',LABEL_FONT).attr('font-size',cfg.labelSize||6.2).attr('font-weight',700).attr('fill','#fff')
    .attr('stroke','#5a5f6a').attr('stroke-opacity',.55).attr('stroke-width',1).attr('paint-order','stroke').text(d=>d[0]);
  if(id==='us'){
    const al=akP([-152,64.5]);
    g.append('text').attr('x',al[0]).attr('y',al[1]+2.2).attr('text-anchor','middle').style('font-family',LABEL_FONT).attr('font-size',6.2).attr('font-weight',700).attr('fill','#fff').attr('stroke','#5a5f6a').attr('stroke-opacity',.55).attr('stroke-width',1).attr('paint-order','stroke').text('Alaska');
    g.append('text').attr('x',189).attr('y',625).attr('text-anchor','middle').style('font-family',LABEL_FONT).attr('font-size',6.2).attr('fill','#8a8f96').text('Hawaii');
  }
  (cfg.small||[]).forEach(d=>{const q=P([d[1],d[2]]);const t=g.append('text').attr('x',q[0]+d[3]).attr('y',q[1]+d[4]).attr('text-anchor','middle').style('font-family',LABEL_FONT).attr('font-size',5.4).attr('fill',d[5]?'#fff':'#8a8f96').text(d[0]);if(d[5])t.attr('stroke','#777').attr('stroke-width',.8).attr('stroke-opacity',.6).attr('paint-order','stroke');});
  g.selectAll('circle.c').data(cfg.cities||[]).join('circle').attr('cx',d=>P([d[1],d[2]])[0]).attr('cy',d=>P([d[1],d[2]])[1]).attr('r',3.8).attr('fill','#000');
  (cfg.tiny||[]).forEach(d=>{const q=P(d);g.append('circle').attr('cx',q[0]).attr('cy',q[1]).attr('r',1.6).attr('fill','#333');});
  const bx=cfg.btn[0],by=cfg.btn[1];
  const btns=cfg.focus?['+','−','×']:['+','−'];
  btns.forEach((t,i)=>{const y=by+[0,18.5,42][i];
    svg.append('rect').attr('x',bx).attr('y',y).attr('width',17.5).attr('height',17).attr('fill','#e6e7e8');
    svg.append('text').attr('x',bx+8.75).attr('y',y+13).attr('text-anchor','middle').style('font-family',LABEL_FONT).attr('font-size',i===2?14:15).attr('font-weight',700).attr('fill','#666').text(t);});
}
function popup(x,y,d){
  const g=svg.append('g').attr('transform',`translate(${x},${y})`);
  const T=(s,tx,ty,size,col,w,anc)=>g.append('text').attr('x',tx).attr('y',ty).style('font-family',LABEL_FONT).attr('font-size',size).attr('fill',col).attr('font-weight',w||400).attr('text-anchor',anc||'start').text(s);
  g.append('rect').attr('width',325).attr('height',84).attr('fill','#fff').attr('filter','url(#shadowS)');
  T(d.name,6,13.5,9.4,'#333',600);
  T(d.ev,6,22.5,6,'#555');
  g.append('line').attr('x1',6).attr('x2',87).attr('y1',25.5).attr('y2',25.5).attr('stroke','#777').attr('stroke-width',.8);
  const ct=T('Polls close at ',6,36,5.8,'#555');ct.append('tspan').attr('font-weight',600).attr('fill','#333').text(d.close);
  g.append('rect').attr('x',6).attr('y',40).attr('width',81).attr('height',4).attr('fill','#e8e8e8');
  g.append('rect').attr('x',6).attr('y',40).attr('width',d3.scaleLinear().domain([0,100]).range([0,81])(d.counted)).attr('height',4).attr('fill','#999');
  const c2=T(d.counted+'%',6,51.5,5.8,'#333',600);c2.append('tspan').attr('font-weight',400).attr('fill','#555').text(' of expected votes');
  T('counted',6,59.5,5.8,'#555');T('*Incumbent',6,69.5,5.4,'#555');
  const pc={DEMOCRAT:'#4aa3d6',REPUBLICAN:'#dd5a70',LIBERTARIAN:'#62bd95'};
  const cx=[103,173,243];
  d.cand.forEach((c,i)=>{
    if(i===0)g.append('rect').attr('x',96.5).attr('y',7).attr('width',65.5).attr('height',54.5).attr('fill',c[0]==='DEMOCRAT'?'#d9eefb':'#fddbe0');
    T(c[0],cx[i],15,5.6,pc[c[0]]);
    const nm=T(c[1],cx[i],25,7.2,'#333',500);
    if(i===0){const nx=cx[i]+nm.node().getComputedTextLength()+5;g.append('circle').attr('cx',nx).attr('cy',22.6).attr('r',2.6).attr('fill','#333');g.append('path').attr('d',`M${nx-1.2},${22.6}l1,1l1.6,-1.8`).attr('fill','none').attr('stroke','#fff').attr('stroke-width',.7);}
    T(c[2]+' votes',cx[i],35,5.8,'#555');
    T(c[3]+' of votes',cx[i],45,5.8,'#555');
    if(c[4])T(c[4]+' electoral votes',cx[i],55,5.8,'#555');
  });
  T('×',315,13.5,11,'#222',700,'middle');
  g.append('rect').attr('x',239).attr('y',67).attr('width',81).attr('height',12).attr('rx',2).attr('fill','#e9e9e9');
  T(d.btn+' ❯',279.5,75.5,5.8,'#666',600,'middle');
}
function brownLabel(cx,cy,t,w){
  const W=w||63.5;
  svg.append('rect').attr('x',cx-W/2).attr('y',cy-8.5).attr('width',W).attr('height',17).attr('rx',6).attr('fill','#6b3a0b');
  svg.append('text').attr('x',cx).attr('y',cy+4.7).attr('text-anchor','middle').attr('font-size',13).attr('font-weight',300).attr('fill','#fff').attr('letter-spacing',.5).text(t);
}
function header(x,y,fill,t,results,outlined){
  svg.append('rect').attr('x',x).attr('y',y).attr('width',244).attr('height',68).attr('rx',6).attr('fill',fill);
  const tx=svg.append('text').attr('x',x+122).attr('y',y+47.5).attr('text-anchor','middle').attr('font-size',outlined?36:36).attr('font-weight',outlined?400:500).attr('fill','#fff').attr('letter-spacing',1).attr('word-spacing',outlined?3:0).text(t);
  if(outlined)tx.attr('stroke','#444').attr('stroke-width',1.4).attr('paint-order','stroke');
  results.forEach((s,i)=>{
    const yy=y+28+i*31.5;
    svg.append('text').attr('x',x+263).attr('y',yy).attr('font-size',28).attr('font-weight',300).attr('fill','#000').text(s[0]);
    svg.append('text').attr('x',x+352).attr('y',yy).attr('font-size',26).attr('font-weight',300).attr('fill','#000').text(s[1]);
  });
}
function brush(pts){
  const g=svg.append('g');
  for(let i=0;i<pts.length-1;i++){const a=pts[i],b=pts[i+1];
    for(let j=0;j<14;j++){const t0=j/14,t1=(j+1)/14;const w=a[2]+(b[2]-a[2])*t0;
      g.append('line').attr('x1',a[0]+(b[0]-a[0])*t0).attr('y1',a[1]+(b[1]-a[1])*t0).attr('x2',a[0]+(b[0]-a[0])*t1).attr('y2',a[1]+(b[1]-a[1])*t1).attr('stroke','#000').attr('stroke-width',w).attr('stroke-linecap','round');}}
}
// title
svg.append('rect').attr('x',20).attr('y',23).attr('width',859).attr('height',141).attr('rx',6).attr('fill','#c9d07a').attr('filter','url(#shadow)');
const tt=svg.append('text').attr('x',97).attr('y',117).attr('font-size',68).attr('font-weight',400).attr('fill','#fff').attr('word-spacing',7);
tt.append('tspan').text('2020');tt.append('tspan').attr('font-size',74).attr('dy',3).text('년 미국 대선 결과');
// panels
drawPanel({id:'us',frame:[22,270,601,377],clip:[23,270,599,375],scale:US_SCALE,anchor:US_ANCHOR,at:US_AT,btn:[29.5,290]});
drawPanel({id:'ny',frame:[657,270,606,377],clip:[658,282,602,360],scale:4000,anchor:[-76.15,43.05],at:[921.5,470],focus:'NY',blue:blueNY,lines:linesNY,cities:cityNY,btn:[665.5,289],hide:['N.Y.','Pa.','N.J.','Del.','Md.','Ohio'],labelShift:{'Vt.':[1.5,-18],'N.H.':[10,12],'Mass.':[16,6],'R.I.':[11,4],'Conn.':[2,5]}});
drawPanel({id:'tx',frame:[20,773,606,360],clip:[20,774,605,357],scale:1700,anchor:[-96.8,32.78],at:[404.8,910],focus:'TX',blue:blueTX,lines:linesTX,cities:cityTX,small:smallNamesTX,btn:[27,780],hide:['Texas','Colo.','Kan.','Mo.','Utah','Tenn.','Ala.'],labelShift:{'Okla.':[-5,-4],'Ark.':[-2,-5],'La.':[-6,-3],'N.M.':[-4,-2]}});
drawPanel({id:'fl',frame:[657,773,606,361],clip:[658,773,604,359],scale:3310,anchor:[-81.38,28.54],at:[1080.5,920.7],focus:'FL',blue:blueFL,lines:linesFL,cities:cityFL,small:smallNamesFL,tiny:[[-82.65,27.77]],btn:[664,779],hide:['Fla.','Ga.','Ala.']});
popup(663,555,popNY);popup(25,1046,popTX);popup(663,1045.5,popFL);
// headers
header(19,201,'#bdbdbd','미국 전체',resultsUS,true);
header(657,201,'#208ccf','뉴욕주',resultsNY);
header(19,697,'#d62a3e','텍사스주',resultsTX);
header(657,697,'#d62a3e','플로리다주',resultsFL);
// city labels
[[868,465.3,'로체스터'],[948.4,459,'시라큐스'],[1071.7,459.3,'앨버니'],[805.6,498.7,'버팔로'],[1099.7,604.7,'뉴욕'],
 [431.2,896.7,'델러스'],[141,939,'엘파소'],[351.5,972,'오스틴'],[463,986,'휴스턴'],[379,1022,'샌안토니오',92],
 [1075.6,807,'잭슨빌'],[1109,933,'올랜도'],[1008,947,'템파'],[1205,999,'웨스트팜비치',92],[1191,1078.7,'마이애미']].forEach(d=>brownLabel(d[0],d[1],d[2],d[3]));
// arrows
brush([[550,383,7],[600,405,8],[650,425,6],[688,438,3]]);brush([[655,403,1],[670,422,2.5],[688,438,4]]);brush([[688,438,3],[660,443,6],[632,448,10]]);
brush([[540,628,5],[560,650,8],[600,685,6],[646,719,3]]);brush([[628,678,1],[636,700,2.5],[646,719,4]]);brush([[646,719,3],[620,716,4],[592,710,8]]);
brush([[287,583,4],[260,615,6],[240,645,5],[223,668,3]]);brush([[227,626,6],[224,645,5],[223,668,3]]);brush([[254,653,1],[238,660,2],[223,668,3]]);
// legend
svg.append('circle').attr('cx',26).attr('cy',1160).attr('r',3.6).attr('fill','#000');
brownLabel(67,1160,'주요도시',64);
svg.append('text').attr('x',1080).attr('y',1179).attr('font-size',21.3).attr('font-weight',300).attr('word-spacing',1.5).text('출처 : 로이터');
svg.append('text').attr('x',1080).attr('y',1203).attr('font-size',21.3).attr('font-weight',300).attr('word-spacing',1.5).text('제작 : 신동윤 기자');
</script></body></html>
